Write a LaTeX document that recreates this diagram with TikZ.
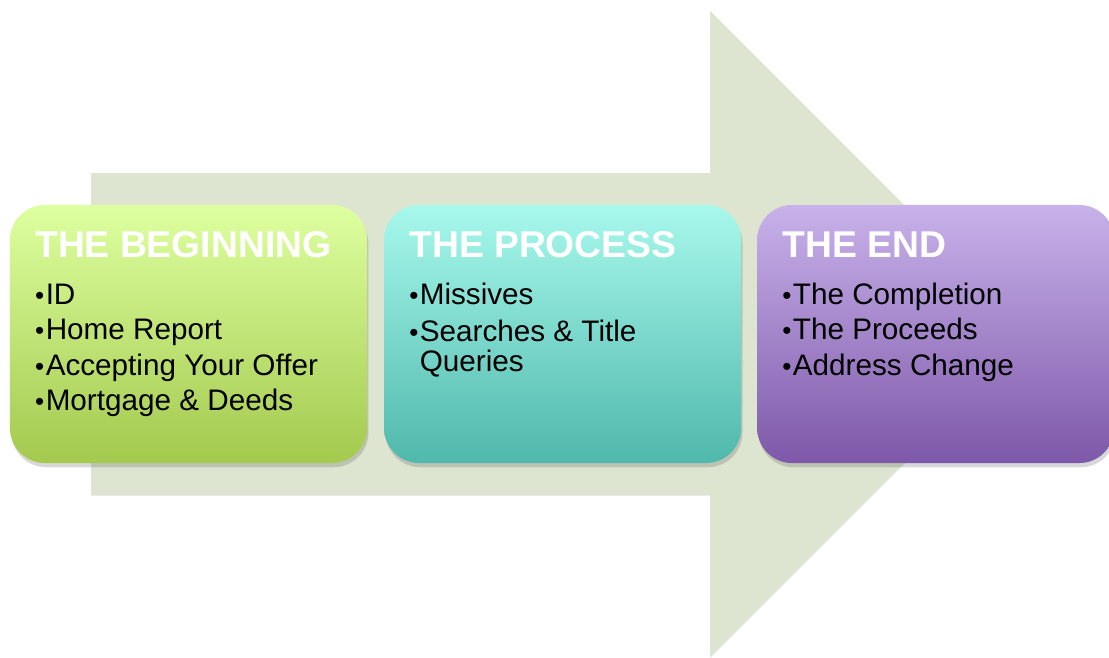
\documentclass[tikz,border=0pt]{standalone}
\usepackage{fontspec}
\setmainfont{Liberation Sans}
\usetikzlibrary{positioning,shadows}

\definecolor{arrowbg}{RGB}{221,229,208}
\definecolor{limetop}{RGB}{222,255,160}
\definecolor{limebot}{RGB}{163,201,78}
\definecolor{aquatop}{RGB}{168,248,236}
\definecolor{aquabot}{RGB}{80,184,172}
\definecolor{liltop}{RGB}{200,178,234}
\definecolor{lilbot}{RGB}{126,88,169}

\newcommand{\stagebul}{{\fontsize{18.5}{20}\selectfont•}\kern1pt}

\tikzset{
	stagebox/.style={rounded corners=0.875cm, minimum width=8.925cm, minimum height=6.45cm,
		inner sep=0pt, outer sep=0pt,
		drop shadow={shadow xshift=1pt, shadow yshift=-3pt, opacity=.22, fill=black!70}},
	stagetitle/.style={anchor=base west, inner sep=0pt, text=white,
		font=\fontsize{26.5}{30}\selectfont\bfseries},
	stageitem/.style={anchor=base west, inner sep=0pt,
		font=\fontsize{21.1}{25}\selectfont}
}

\begin{document}
\begin{tikzpicture}[x=0.025cm, y=-0.025cm]
			\useasboundingbox (0,0) rectangle (1109,657);
			% big arrow behind
			\fill[arrowbg, drop shadow={shadow xshift=.6pt, shadow yshift=-.6pt, opacity=.15}]
				(91,173) -- (710,173) -- (710,11) -- (1033,334) -- (710,657) -- (710,495) -- (91,495) -- cycle;
			
			\node[stagebox, top color=limetop, bottom color=limebot] (beginning) at (188.5,334) {};
			\node[stagebox, top color=aquatop, bottom color=aquabot, right=0.425cm of beginning] (process) {};
			\node[stagebox, top color=liltop, bottom color=lilbot, right=0.4cm of process] (finish) {};
			
			% titles
			\node[stagetitle] (t1) at ([shift={(25,53)}]beginning.north west) {THE BEGINNING};
			\node[stagetitle] (t2) at ([shift={(25,53)}]process.north west) {THE PROCESS};
			\node[stagetitle] (t3) at ([shift={(25,53)}]finish.north west) {THE END};
			
			\foreach \txt [count=\i] in {ID, Home Report, Accepting Your Offer, Mortgage \& Deeds}
			\node[stageitem] (b\i) at ([shift={(25,64+35.5*\i)}]beginning.north west) {\stagebul\txt};
			
			\node[stageitem] (p1) at ([shift={(25,100)}]process.north west) {\stagebul Missives};
			\node[stageitem] (p2) at ([shift={(25,136.5)}]process.north west) {\stagebul Searches \& Title};
			\node[stageitem] (p3) at ([shift={(25,166.5)}]process.north west) {\phantom{\stagebul}Queries};
			
			\foreach \txt [count=\i] in {The Completion, The Proceeds, Address Change}
			\node[stageitem] (e\i) at ([shift={(25,64+35.5*\i)}]finish.north west) {\stagebul\txt};
		\end{tikzpicture}
\end{document}
